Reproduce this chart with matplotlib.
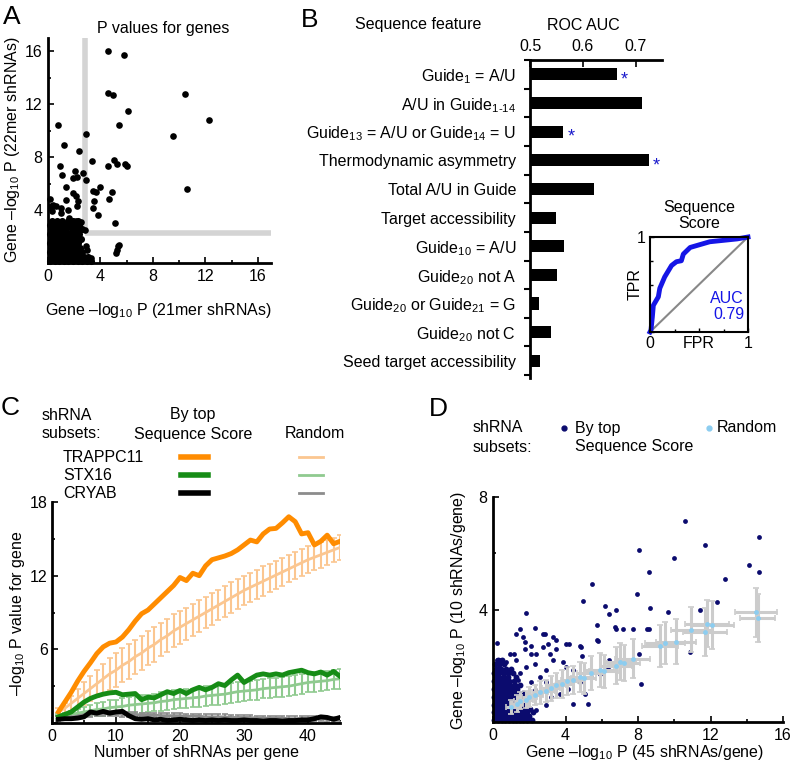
import matplotlib
matplotlib.use('Agg')
import matplotlib.pyplot as plt
from matplotlib.lines import Line2D
import numpy as np

plt.rcParams['font.family'] = ['Liberation Sans', 'DejaVu Sans']
plt.rcParams['mathtext.fontset'] = 'custom'
plt.rcParams['mathtext.rm'] = 'Liberation Sans'
plt.rcParams['mathtext.it'] = 'Liberation Sans:italic'
plt.rcParams['mathtext.default'] = 'regular'
plt.rcParams['font.size'] = 11.5

W, H = 795, 770

# ---------------- data ----------------
# A: gene P values, 21mer vs 22mer
a_x = [4.58, 5.83, 4.58, 4.95, 10.45, 6.13, 12.25, 0.75, 5.43, 2.93, 9.5, 1.2, 2.38, 3.33, 0.88,
       5.05, 4.58, 5.25, 5.88, 6.03, 1.05, 2.08, 2.2, 1.88, 2.7, 2.88, 10.63, 3.95, 3.45, 3.63,
       4.88, 4.63, 3.5, 3.8, 3.45, 5.08, 1.38, 1.88, 2.13, 2.3, 2.18, 1.38, 1.5, 1.0, 0.63, 0.38,
       1.0, 1.63, 2.13, 2.5, 2.83, 5.33, 5.25, 5.18, 5.38, 2.88, 3.0, 3.25, 0.15, 0.2, 0.3]
a_y = [16.0, 15.74, 12.85, 12.72, 12.8, 11.5, 10.83, 10.45, 10.4, 9.77, 9.62, 8.9, 8.49, 7.73, 7.3,
       7.8, 7.3, 7.48, 7.5, 7.3, 6.62, 6.93, 6.47, 6.42, 6.8, 6.3, 5.6, 5.72, 5.42, 5.34,
       5.34, 4.86, 4.71, 3.65, 4.16, 3.02, 5.72, 5.29, 5.04, 4.66, 4.28, 4.79, 4.03, 4.16, 4.28, 4.41,
       3.78, 3.4, 3.15, 3.07, 2.52, 1.26, 1.0, 0.76, 1.39, 1.26, 1.0, 0.38, 4.8, 4.3, 3.9]
# dense cloud near the origin, row by row
a_dense_y = [0.15, 0.45, 0.8, 1.15, 1.5, 1.85, 2.2, 2.55, 2.9, 3.2]
a_dense_x = [[0.15, 0.5, 0.85, 1.2, 1.55, 1.9, 2.25, 2.6, 2.95, 3.3],
             [0.3, 0.65, 1.0, 1.35, 1.7, 2.05, 2.4, 2.75, 3.05],
             [0.15, 0.5, 0.85, 1.2, 1.55, 1.9, 2.25, 2.6],
             [0.3, 0.65, 1.0, 1.35, 1.7, 2.05, 2.45],
             [0.15, 0.5, 0.85, 1.2, 1.55, 1.9, 2.3],
             [0.3, 0.65, 1.0, 1.35, 1.75, 2.15, 2.5],
             [0.15, 0.5, 0.85, 1.25, 1.6, 2.0, 2.4],
             [0.3, 0.65, 1.0, 1.35, 1.8, 2.2, 2.6],
             [0.15, 0.5, 0.85, 1.2, 1.6, 2.0, 2.35],
             [0.3, 0.7, 1.1, 1.5, 1.9, 2.3]]
a_cut_x = 2.8
a_cut_y = 2.3

# B: ROC AUC per sequence feature
features = ['Guide$_1$ = A/U', r'A/U in Guide$_{1\text{-}14}$',
            'Guide$_{13}$ = A/U or Guide$_{14}$ = U', 'Thermodynamic asymmetry',
            'Total A/U in Guide', 'Target accessibility', 'Guide$_{10}$ = A/U',
            'Guide$_{20}$ not A', 'Guide$_{20}$ or Guide$_{21}$ = G', 'Guide$_{20}$ not C',
            'Seed target accessibility']
auc = [0.664, 0.713, 0.563, 0.725, 0.621, 0.549, 0.564, 0.551, 0.517, 0.540, 0.519]
starred = [0, 2, 3]

roc_fpr = [0, 0.01, 0.024, 0.034, 0.085, 0.10, 0.15, 0.22, 0.27, 0.32, 0.34, 0.41, 0.51, 0.61,
           0.75, 0.89, 1.0]
roc_tpr = [0, 0.02, 0.16, 0.28, 0.37, 0.46, 0.58, 0.70, 0.74, 0.75, 0.82, 0.89, 0.92, 0.95,
           0.965, 0.98, 1.0]

# C: P value vs number of shRNAs per gene
n_shrna = np.arange(1, 46)
trap_top = [0.9, 1.7, 2.5, 3.4, 4.2, 4.9, 5.65, 6.2, 6.5, 6.6, 7.0, 7.6, 8.3, 8.9, 9.2, 9.7, 10.2,
            10.7, 11.2, 11.85, 11.6, 12.2, 12.0, 12.8, 13.3, 13.45, 13.6, 13.8, 14.1, 14.5, 14.9,
            14.75, 15.4, 15.8, 15.85, 16.3, 16.8, 16.4, 15.4, 15.5, 14.5, 14.8, 15.3, 14.6, 14.8]
trap_rand = [0.9, 1.2, 1.6, 2.0, 2.4, 2.8, 3.2, 3.6, 4.0, 4.3, 4.7, 5.0, 5.4, 5.7, 6.1, 6.4, 6.8,
             7.1, 7.5, 7.8, 8.1, 8.4, 8.7, 9.0, 9.3, 9.6, 9.9, 10.2, 10.5, 10.8, 11.05, 11.3,
             11.55, 11.8, 12.05, 12.3, 12.55, 12.8, 13.05, 13.3, 13.5, 13.7, 13.9, 14.1, 14.3]
trap_err = [0.3, 0.45, 0.6, 0.75, 0.9, 1.0, 1.1, 1.2, 1.3, 1.4, 1.4, 1.4, 1.4, 1.4, 1.4, 1.4,
            1.35, 1.35, 1.35, 1.35, 1.3, 1.3, 1.3, 1.3, 1.3, 1.25, 1.25, 1.25, 1.25, 1.2, 1.2,
            1.2, 1.2, 1.15, 1.15, 1.15, 1.1, 1.1, 1.1, 1.1, 1.05, 1.05, 1.0, 1.0, 1.0]
stx_top = [0.5, 0.7, 0.9, 1.3, 1.7, 2.0, 2.2, 2.35, 2.45, 2.5, 2.3, 2.35, 2.4, 1.9, 2.1, 2.05,
           2.3, 2.55, 2.4, 2.65, 2.4, 2.7, 2.9, 2.7, 2.9, 3.2, 3.05, 3.5, 3.9, 3.3, 3.6, 3.9,
           4.0, 3.9, 4.0, 3.9, 4.1, 4.2, 4.3, 4.1, 4.0, 4.15, 3.9, 4.2, 3.8]
stx_rand = [0.5, 0.6, 0.7, 0.8, 0.9, 1.0, 1.1, 1.15, 1.25, 1.3, 1.35, 1.45, 1.5, 1.55, 1.6, 1.65,
            1.75, 1.8, 1.9, 1.95, 2.0, 2.05, 2.1, 2.2, 2.25, 2.3, 2.35, 2.45, 2.55, 2.6, 2.65,
            2.7, 2.8, 2.85, 2.9, 2.95, 3.0, 3.1, 3.2, 3.3, 3.35, 3.4, 3.45, 3.55, 3.6]
stx_err = [0.2, 0.25, 0.3, 0.35, 0.4, 0.45, 0.5, 0.55, 0.6, 0.6, 0.65, 0.65, 0.7, 0.7, 0.7, 0.7,
           0.75, 0.75, 0.75, 0.75, 0.75, 0.75, 0.8, 0.8, 0.8, 0.8, 0.8, 0.8, 0.8, 0.8, 0.8, 0.8,
           0.8, 0.8, 0.8, 0.8, 0.8, 0.8, 0.8, 0.8, 0.8, 0.8, 0.8, 0.8, 0.8]
cry_top = [0.3, 0.35, 0.35, 0.4, 0.5, 0.9, 0.8, 0.95, 0.8, 0.9, 0.95, 0.6, 0.35, 0.3, 0.35, 0.25,
           0.3, 0.2, 0.25, 0.3, 0.25, 0.2, 0.25, 0.2, 0.25, 0.2, 0.25, 0.2, 0.2, 0.25, 0.2, 0.2,
           0.15, 0.2, 0.2, 0.15, 0.2, 0.2, 0.25, 0.25, 0.35, 0.5, 0.45, 0.3, 0.45]
cry_rand = [0.4, 0.45, 0.5, 0.55, 0.65, 0.7, 0.75, 0.75, 0.75, 0.75, 0.7, 0.7, 0.7, 0.65, 0.65,
            0.65, 0.6, 0.6, 0.6, 0.6, 0.55, 0.55, 0.55, 0.5, 0.5, 0.5, 0.5, 0.45, 0.45, 0.45,
            0.45, 0.4, 0.4, 0.4, 0.4, 0.4, 0.35, 0.35, 0.35, 0.35, 0.35, 0.35, 0.3, 0.3, 0.3]
cry_err = 0.2
genes = ['TRAPPC11', 'STX16', 'CRYAB']

# D: 45 vs 10 shRNAs/gene
d_top_x = [10.57, 14.67, 11.71, 8.05, 9.96, 14.15, 14.67, 8.6, 12.78, 5.46, 7.94, 4.96, 12.35, 6.16,
           6.8, 8.64, 9.65, 11.43, 6.4, 1.8, 5.75, 6.71, 6.77, 7.17, 7.72, 8.51, 8.6, 5.75, 5.77,
           10.85, 8.05, 6.34, 8.18, 5.24, 4.93, 4.78, 4.04, 3.49, 3.03, 2.76, 2.85, 2.3, 1.5, 1.29,
           0.24, 1.65, 1.74, 0.92, 1.29, 2.11, 2.35, 2.3, 2.76, 3.16, 3.49, 3.3, 3.86, 4.04, 4.41,
           2.94, 2.57, 1.84, 1.5, 0.74, 0.4, 0.22, 0.33, 1.38, 2.11, 2.3, 2.94, 3.49, 3.68, 3.22,
           4.14, 4.78, 5.06, 5.42, 5.88, 6.4, 4.41, 2.94, 2.39, 1.84, 1.17, 1.76, 2.09, 3.33, 4.2,
           4.86]
d_top_y = [7.13, 6.58, 6.28, 6.13, 5.84, 5.6, 5.33, 5.33, 5.07, 4.92, 4.54, 4.29, 4.27, 4.12,
           3.97, 4.06, 3.91, 4.0, 3.83, 3.89, 3.44, 3.38, 3.3, 3.32, 3.32, 3.32, 3.32, 2.93, 2.88,
           2.49, 2.43, 1.95, 1.34, 0.65, 2.33, 2.69, 2.78, 2.9, 2.76, 3.14, 3.14, 3.34, 3.32, 3.14,
           2.81, 3.02, 2.84, 2.43, 2.19, 2.43, 2.43, 2.07, 2.67, 2.43, 2.6, 2.19, 2.13, 1.95, 1.84,
           1.84, 1.6, 1.95, 1.75, 2.13, 2.19, 2.19, 2.0, 1.48, 1.42, 1.13, 1.42, 1.36, 1.0, 0.89,
           1.18, 1.42, 1.0, 1.6, 1.72, 2.19, 0.65, 0.59, 0.41, 0.3, 2.41, 2.58, 2.7, 3.02, 2.78,
           2.67]
d_dense_y = [0.06, 0.20, 0.34, 0.48, 0.62, 0.76, 0.90, 1.04, 1.18, 1.32, 1.46, 1.60, 1.75, 1.90,
             2.05, 2.20]
d_dense_x = [[0.08, 0.28, 0.48, 0.68, 0.88, 1.08, 1.28, 1.48, 1.68, 1.9, 2.15],
             [0.15, 0.35, 0.55, 0.75, 0.95, 1.15, 1.35, 1.55, 1.75, 2.0],
             [0.08, 0.28, 0.48, 0.68, 0.88, 1.08, 1.28, 1.48, 1.68, 1.9, 2.2],
             [0.15, 0.35, 0.55, 0.75, 0.95, 1.15, 1.35, 1.55, 1.8, 2.05],
             [0.08, 0.28, 0.48, 0.68, 0.88, 1.08, 1.28, 1.48, 1.7],
             [0.15, 0.35, 0.55, 0.75, 0.95, 1.15, 1.35, 1.6, 1.85],
             [0.08, 0.28, 0.48, 0.68, 0.88, 1.08, 1.28, 1.5],
             [0.15, 0.35, 0.55, 0.75, 0.95, 1.15, 1.4, 1.65],
             [0.08, 0.28, 0.48, 0.68, 0.88, 1.08, 1.3],
             [0.15, 0.35, 0.55, 0.75, 0.95, 1.2, 1.5],
             [0.08, 0.28, 0.48, 0.68, 0.9, 1.15],
             [0.15, 0.35, 0.6, 0.85, 1.25],
             [0.08, 0.3, 0.55, 0.8, 1.1],
             [0.15, 0.45, 0.7, 1.0],
             [0.1, 0.35, 0.6],
             [0.25, 0.5]]
d_rand_x = [1.0, 1.3, 1.5, 1.8, 2.0, 2.3, 2.6, 2.9, 3.2, 3.5, 3.8, 4.1, 4.4, 4.8, 5.0, 5.4, 5.9,
            6.1, 6.8, 7.0, 7.2, 7.7, 9.2, 9.5, 10.1, 10.95, 11.7, 11.8, 12.1, 14.5, 14.6]
d_rand_y = [0.55, 0.65, 0.75, 0.8, 0.9, 0.95, 1.05, 1.1, 1.2, 1.3, 1.35, 1.45, 1.5, 1.6, 1.55,
            1.75, 1.85, 1.8, 2.0, 2.15, 2.1, 2.25, 2.7, 2.8, 2.85, 3.28, 3.2, 3.5, 3.45, 3.9, 3.7]
d_rand_xerr = [0.3, 0.35, 0.35, 0.4, 0.4, 0.45, 0.45, 0.5, 0.5, 0.55, 0.6, 0.6, 0.65, 0.7, 0.7,
               0.75, 0.8, 0.8, 0.85, 0.9, 0.9, 0.95, 1.0, 1.1, 1.1, 1.15, 1.2, 1.2, 1.2, 1.15, 0.95]
d_rand_yerr = [0.25, 0.3, 0.3, 0.3, 0.35, 0.35, 0.4, 0.4, 0.45, 0.45, 0.5, 0.5, 0.5, 0.55, 0.55,
               0.6, 0.6, 0.6, 0.65, 0.65, 0.65, 0.7, 0.75, 0.75, 0.8, 0.8, 0.85, 0.85, 0.85, 0.87,
               0.85]

# ---------------- helpers ----------------
def box(x0, y0, x1, y1):
    return [x0 / W, 1 - y1 / H, (x1 - x0) / W, (y1 - y0) / H]


def ftext(x, y, s, **kw):
    kw.setdefault('ha', 'center')
    kw.setdefault('va', 'center')
    fig.text(x / W, 1 - y / H, s, **kw)


def fline(x0, x1, y, **kw):
    fig.add_artist(Line2D([x0 / W, x1 / W], [1 - y / H, 1 - y / H], **kw))


def matlab_axes(ax):
    for s in ['top', 'right']:
        ax.spines[s].set_visible(False)
    for s in ['left', 'bottom']:
        ax.spines[s].set_linewidth(2)
    ax.tick_params(which='both', direction='in', width=1.2)
    ax.tick_params(which='major', length=4, pad=4)
    ax.tick_params(which='minor', length=2.5)


fig = plt.figure(figsize=(W / 100, H / 100), dpi=100)

# ---------------- A ----------------
axA = fig.add_axes(box(48, 38, 271, 263))
axA.plot([a_cut_x, a_cut_x], [a_cut_y, 17], color='#d4d4d4', lw=4, solid_capstyle='butt', zorder=1)
axA.plot([a_cut_x, 17], [a_cut_y, a_cut_y], color='#d4d4d4', lw=4, solid_capstyle='butt', zorder=1)
ax_dx = np.concatenate([np.array(r) for r in a_dense_x])
ax_dy = np.concatenate([[yv] * len(r) for yv, r in zip(a_dense_y, a_dense_x)])
axA.scatter(ax_dx, ax_dy, s=26, color='black', lw=0, zorder=2, clip_on=False)
axA.scatter(a_x, a_y, s=23, color='black', lw=0, zorder=2, clip_on=False)
axA.set_xlim(0, 17)
axA.set_ylim(0, 17)
matlab_axes(axA)
axA.set_xticks([0, 4, 8, 12, 16])
axA.set_xticks([2, 6, 10, 14], minor=True)
axA.set_yticks([0, 4, 8, 12, 16])
axA.set_yticklabels(['', '4', '8', '12', '16'])
axA.set_yticks([2, 6, 10, 14], minor=True)
ftext(163, 29, 'P values for genes')
ftext(158, 310, 'Gene –log$_{10}$ P (21mer shRNAs)')
ftext(13, 150, 'Gene –log$_{10}$ P (22mer shRNAs)', rotation=90)

# ---------------- B ----------------
axB = fig.add_axes(box(530, 60, 662, 378))
pos = np.arange(len(features))
axB.barh(pos, np.array(auc) - 0.5, left=0.5, height=0.42, color='black')
for i in starred:
    axB.text(auc[i] + 0.008, pos[i] + 0.2, '*', color='#1a1acc', ha='left', va='center',
             fontsize=13)
axB.set_xlim(0.5, 0.75)
axB.set_ylim(10.6, -0.5)
for s in ['bottom', 'right']:
    axB.spines[s].set_visible(False)
for s in ['left', 'top']:
    axB.spines[s].set_linewidth(2)
axB.xaxis.tick_top()
axB.set_xticks([0.5, 0.6, 0.7])
axB.set_xticklabels(['0.5', '0.6', '0.7'])
axB.tick_params(axis='x', direction='in', length=5, width=1.2, pad=4)
axB.set_yticks(pos)
axB.set_yticklabels(features)
axB.tick_params(axis='y', which='major', length=0, pad=10)
axB.set_yticks(np.arange(-0.5, 11, 1.0), minor=True)
axB.tick_params(axis='y', which='minor', direction='out', length=4, width=1.5)
ftext(418, 25, 'Sequence feature')
ftext(583, 25, 'ROC AUC')

# inset ROC
axI = fig.add_axes(box(650, 237, 748, 332))
axI.plot([0, 1], [0, 1], color='#888888', lw=1.5)
axI.plot(roc_fpr, roc_tpr, color='#1515e6', lw=3.5, solid_joinstyle='round', clip_on=False)
axI.set_xlim(0, 1)
axI.set_ylim(0, 1)
for s in axI.spines.values():
    s.set_linewidth(1.5)
axI.set_xticks([0, 0.5, 1])
axI.set_xticklabels(['0', 'FPR', '1'])
axI.set_xticks([0.25, 0.75], minor=True)
axI.set_yticks([0, 1])
axI.set_yticklabels(['', '1'])
axI.set_yticks([0.25, 0.5, 0.75], minor=True)
axI.tick_params(which='both', direction='in', length=3, width=1, pad=3)
axI.tick_params(which='minor', length=2)
axI.text(-0.08, 0.5, 'TPR', rotation=90, ha='right', va='center', transform=axI.transAxes)
axI.text(0.5, 1.06, 'Sequence\nScore', ha='center', va='bottom', transform=axI.transAxes,
         linespacing=1.1)
axI.text(0.96, 0.1, 'AUC\n0.79', color='#1515e6', ha='right', va='bottom', transform=axI.transAxes,
         multialignment='right', linespacing=1.15)

# ---------------- C ----------------
axC = fig.add_axes(box(52, 502, 340, 723))
c_light = ['#fbc690', '#8fca8f', '#8c8c8c']
c_dark = ['#ff8c00', '#168c16', '#000000']
rand_sets = [(trap_rand, trap_err), (stx_rand, stx_err), (cry_rand, cry_err)]
for (m, e), col in zip(rand_sets, c_light):
    axC.errorbar(n_shrna, m, yerr=e, color=col, lw=2, elinewidth=1.5, capsize=2, capthick=1.2,
                 zorder=2)
for t, col in zip([trap_top, stx_top, cry_top], c_dark):
    axC.plot(n_shrna, t, color=col, lw=3.5, zorder=3, solid_joinstyle='round')
axC.set_xlim(0, 45)
axC.set_ylim(0, 18)
matlab_axes(axC)
axC.tick_params(axis='y', pad=3)
axC.set_xticks([0, 10, 20, 30, 40])
axC.set_xticks([5, 15, 25, 35, 45], minor=True)
axC.set_yticks([0, 6, 12, 18])
axC.set_yticklabels(['', '6', '12', '18'])
axC.set_yticks([3, 9, 15], minor=True)
ftext(197, 753, 'Number of shRNAs per gene')
ftext(18, 613, '–log$_{10}$ P value for gene', rotation=90)

ftext(42, 415, 'shRNA', ha='left')
ftext(42, 434, 'subsets:', ha='left')
ftext(193, 415, 'By top')
ftext(193, 434, 'Sequence Score')
ftext(315, 434, 'Random')
for k, (g, yy) in enumerate(zip(genes, [457, 475, 493])):
    ftext(63, yy, g, ha='left')
    fline(181, 208, yy, color=c_dark[k], lw=4)
    fline(299, 323, yy, color=c_light[k], lw=2)

# ---------------- D ----------------
axD = fig.add_axes(box(493, 497, 783, 722))
navy = '#0b0b6e'
dd_x = np.concatenate([np.array(r) for r in d_dense_x])
dd_y = np.concatenate([[yv] * len(r) for yv, r in zip(d_dense_y, d_dense_x)])
axD.scatter(dd_x, dd_y, s=18, color=navy, lw=0, zorder=2, clip_on=False)
axD.scatter(d_top_x, d_top_y, s=12, color=navy, lw=0, zorder=2)
axD.errorbar(d_rand_x, d_rand_y, xerr=d_rand_xerr, yerr=d_rand_yerr, fmt='none',
             ecolor='#cccccc', elinewidth=2.2, capsize=2, capthick=1.2, zorder=3)
axD.scatter(d_rand_x, d_rand_y, s=12, color='#8ccdf0', lw=0, zorder=4)
axD.set_xlim(0, 16)
axD.set_ylim(0, 8)
matlab_axes(axD)
axD.set_xticks([0, 4, 8, 12, 16])
axD.set_xticks([2, 6, 10, 14], minor=True)
axD.set_yticks([0, 4, 8])
axD.set_yticklabels(['', '4', '8'])
axD.set_yticks([2, 6], minor=True)
ftext(645, 753, 'Gene –log$_{10}$ P (45 shRNAs/gene)')
ftext(458, 610, 'Gene –log$_{10}$ P (10 shRNAs/gene)', rotation=90)

ftext(473, 428, 'shRNA', ha='left')
ftext(473, 447, 'subsets:', ha='left')
fig.add_artist(Line2D([564 / W], [1 - 428 / H], marker='o', ms=3.5, color=navy, lw=0))
ftext(575, 428, 'By top', ha='left')
ftext(575, 447, 'Sequence Score', ha='left')
fig.add_artist(Line2D([709 / W], [1 - 428 / H], marker='o', ms=3.5, color='#8ccdf0', lw=0))
ftext(717, 428, 'Random', ha='left')

# panel letters
ftext(12, 17, 'A', fontsize=19)
ftext(310, 20, 'B', fontsize=19)
ftext(10, 408, 'C', fontsize=19)
ftext(438, 409, 'D', fontsize=19)

fig.savefig('out.png', dpi=100)
